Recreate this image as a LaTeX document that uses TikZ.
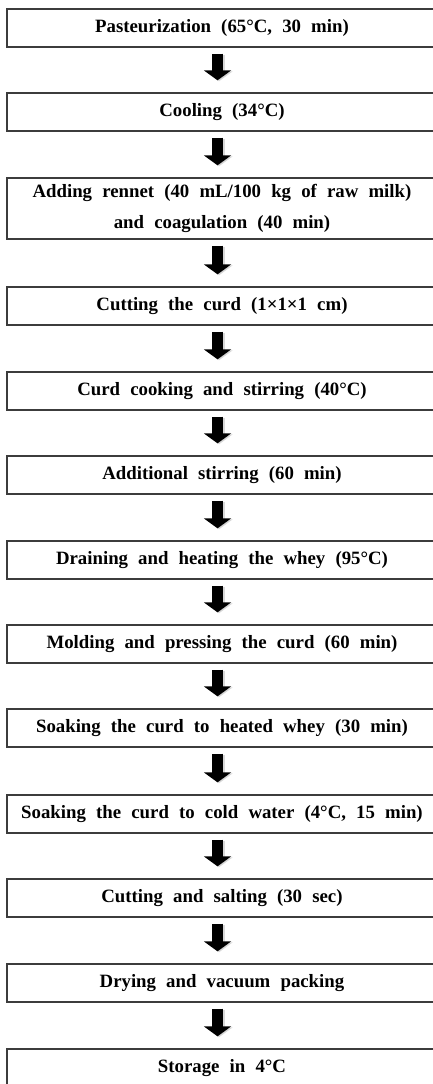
\documentclass[tikz,border=0pt]{standalone}
\usepackage{fontspec}
\setmainfont{Liberation Serif}
\usetikzlibrary{arrows.meta}

\definecolor{boxline}{HTML}{3C3C3C}
\definecolor{shadowgray}{HTML}{A8A8A8}

\newcommand{\widespace}{\spaceskip=0.54em plus 0.1em\relax}

\tikzset{
	stepbox/.style={draw=boxline, line width=1.4pt, minimum width=430pt, minimum height=38pt,
		inner sep=0pt, align=center,
		font=\fontsize{18.8}{31}\selectfont\bfseries,
		execute at begin node=\widespace},
	blockarrow/.style={line width=11.5pt, -{Triangle[length=10pt, width=27pt]}},
}

% arrow from box #1 to box #2, with a soft shadow
\newcommand{\flowarrow}[2]{
	\draw[blockarrow, shadowgray, opacity=0.45] ([xshift=-3pt, yshift=-7pt]#1.south) -- ([xshift=-3pt, yshift=11pt]#2.north);
	\draw[blockarrow, black] ([xshift=-4.5pt, yshift=-6pt]#1.south) -- ([xshift=-4.5pt, yshift=12pt]#2.north);
}

\begin{document}
\begin{tikzpicture}[x=1pt, y=1pt]
	\useasboundingbox (0,0) rectangle (432,-1084);

	\node[stepbox](s1) at (222,-28) {Pasteurization (65°C, 30 min)};
	\node[stepbox](s2) at (222,-112) {Cooling (34°C)};
	\node[stepbox, minimum height=61pt](s3) at (222,-208.5) {Adding rennet (40 mL/100 kg of raw milk)\\and coagulation (40 min)};
	\node[stepbox](s4) at (222,-306) {Cutting the curd (1×1×1 cm)};
	\node[stepbox](s5) at (222,-391) {Curd cooking and stirring (40°C)};
	\node[stepbox](s6) at (222,-475) {Additional stirring (60 min)};
	\node[stepbox](s7) at (222,-560) {Draining and heating the whey (95°C)};
	\node[stepbox](s8) at (222,-644) {Molding and pressing the curd (60 min)};
	\node[stepbox](s9) at (222,-728) {Soaking the curd to heated whey (30 min)};
	\node[stepbox](s10) at (222,-814) {Soaking the curd to cold water (4°C, 15 min)};
	\node[stepbox](s11) at (222,-898) {Cutting and salting (30 sec)};
	\node[stepbox](s12) at (222,-983) {Drying and vacuum packing};
	\node[stepbox](s13) at (222,-1068) {Storage in 4°C};

	\flowarrow{s1}{s2}
	\flowarrow{s2}{s3}
	\flowarrow{s3}{s4}
	\flowarrow{s4}{s5}
	\flowarrow{s5}{s6}
	\flowarrow{s6}{s7}
	\flowarrow{s7}{s8}
	\flowarrow{s8}{s9}
	\flowarrow{s9}{s10}
	\flowarrow{s10}{s11}
	\flowarrow{s11}{s12}
	\flowarrow{s12}{s13}
\end{tikzpicture}
\end{document}
